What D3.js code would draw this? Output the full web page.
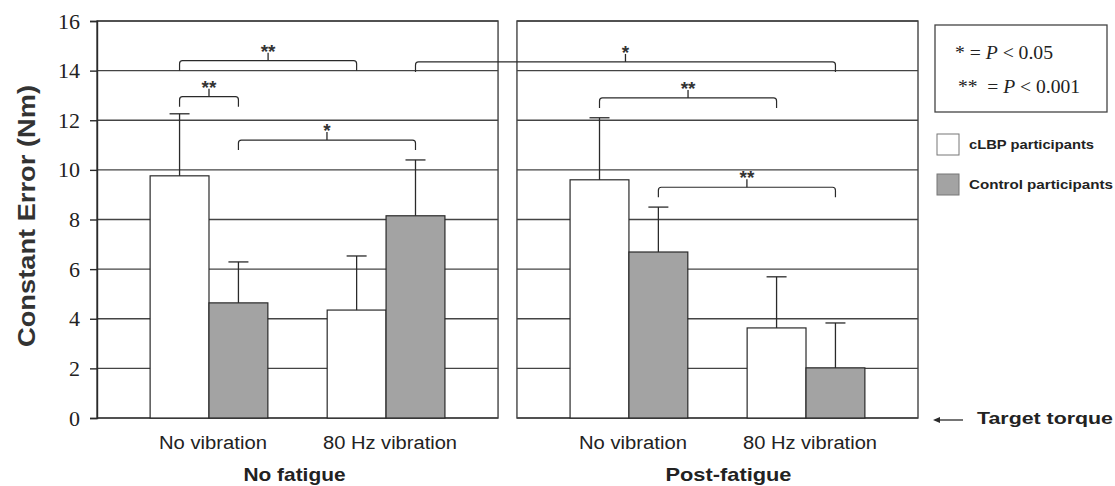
<!DOCTYPE html>
<html><head><meta charset="utf-8">
<script src="https://cdn.jsdelivr.net/npm/d3@7"></script>
<style>body{margin:0;background:#fff}svg{display:block}</style>
</head><body>
<svg id="c" width="1115" height="486"></svg>
<script>
// ---- data ----
const panels = ["No fatigue", "Post-fatigue"];
const conditions = ["No vibration", "80 Hz vibration"];
const groups = ["cLBP participants", "Control participants"];
// order: [No fatigue-No vib, No fatigue-80Hz, Post-fatigue-No vib, Post-fatigue-80Hz]
const cLBPMean = [9.76, 4.35, 9.6, 3.63];
const cLBPSD = [2.5, 2.18, 2.5, 2.06];
const controlMean = [4.64, 8.15, 6.69, 2.02];
const controlSD = [1.65, 2.25, 1.81, 1.81];
const yTicks = [0, 2, 4, 6, 8, 10, 12, 14, 16];
// significance brackets: [panel, condition, group] indices of endpoints
const sigLabel = ["**", "*", "**", "*", "**", "**"];
const sigLevel = [14.4, 14.35, 12.95, 11.2, 12.9, 9.3];
const sigFrom = [[0,0,0],[0,1,1],[0,0,0],[0,0,1],[1,0,0],[1,0,1]];
const sigTo   = [[0,1,0],[1,1,1],[0,0,1],[0,1,1],[1,1,0],[1,1,1]];
const pLegend = [["* = ", "P", " < 0.05"], ["**  = ", "P", " < 0.001"]];

// ---- layout ----
const svg = d3.select("#c");
svg.append("rect").attr("width",1115).attr("height",486).attr("fill","#fff");
const y = d3.scaleLinear().domain([0,16]).range([418,21]);
const px = d3.scaleBand().domain(panels).range([97,918]).paddingInner(0.045);
const cx = d3.scaleBand().domain(conditions).range([0,px.bandwidth()]).paddingInner(0.335).paddingOuter(0.3);
const gx = d3.scaleBand().domain(groups).range([0,cx.bandwidth()]);
const ink = "#2a2a2a";
const gridC = "#444";
const sans = "'Liberation Sans',Arial,sans-serif";
const serif = "'Liberation Serif','Times New Roman',serif";

const data = [];
panels.forEach((p,pi)=>conditions.forEach((c,ci)=>{
  const k = pi*2+ci;
  data.push({p,c,g:groups[0],m:cLBPMean[k],sd:cLBPSD[k]});
  data.push({p,c,g:groups[1],m:controlMean[k],sd:controlSD[k]});
}));
const barX = d=>px(d.p)+cx(d.c)+gx(d.g);
const center = (a)=>px(panels[a[0]])+cx(conditions[a[1]])+gx(groups[a[2]])+gx.bandwidth()/2;

// gridlines + frames
panels.forEach(p=>{
  const x0 = px(p), x1 = px(p)+px.bandwidth();
  svg.append("g").selectAll("line").data(yTicks).join("line")
    .attr("x1",x0).attr("x2",x1).attr("y1",d=>y(d)).attr("y2",d=>y(d))
    .attr("stroke",gridC).attr("stroke-width",1.4);
  svg.append("rect").attr("x",x0).attr("y",y(16)).attr("width",px.bandwidth()).attr("height",y(0)-y(16))
    .attr("fill","none").attr("stroke",gridC).attr("stroke-width",1.4);
});

// y axis
const ax = svg.append("g").attr("transform",`translate(${px(panels[0])},0)`)
  .call(d3.axisLeft(y).tickValues(yTicks).tickSize(7).tickPadding(10).tickFormat(d3.format("d")));
ax.select(".domain").attr("stroke",ink).attr("stroke-width",1.4);
ax.selectAll(".tick line").attr("stroke",ink).attr("stroke-width",1.4);
ax.selectAll(".tick text").attr("font-family",serif).attr("font-size",22).attr("fill","#222");

// bars
svg.append("g").selectAll("rect").data(data).join("rect")
  .attr("x",barX).attr("width",gx.bandwidth()).attr("y",d=>y(d.m)).attr("height",d=>y(0)-y(d.m))
  .attr("fill",d=>d.g===groups[0]?"#ffffff":"#a3a3a3").attr("stroke",ink).attr("stroke-width",1.2);

// error bars
const eb = svg.append("g").attr("stroke",ink).attr("stroke-width",1.3);
data.forEach(d=>{
  const xc = barX(d)+gx.bandwidth()/2;
  eb.append("line").attr("x1",xc).attr("x2",xc).attr("y1",y(d.m)).attr("y2",y(d.m+d.sd));
  eb.append("line").attr("x1",xc-10).attr("x2",xc+10).attr("y1",y(d.m+d.sd)).attr("y2",y(d.m+d.sd));
});

// significance brackets
const br = svg.append("g");
sigLabel.forEach((lab,i)=>{
  const x1 = center(sigFrom[i]), x2 = center(sigTo[i]);
  const yt = y(sigLevel[i]), leg = 10, r = 3, xm = (x1+x2)/2;
  const path = `M${x1},${yt+leg} L${x1},${yt+r} Q${x1},${yt} ${x1+r},${yt} L${x2-r},${yt} Q${x2},${yt} ${x2},${yt+r} L${x2},${yt+leg}`;
  br.append("path").attr("d",path).attr("fill","none").attr("stroke",ink).attr("stroke-width",1.2);
  br.append("line").attr("x1",xm).attr("x2",xm).attr("y1",yt).attr("y2",yt-8).attr("stroke",ink).attr("stroke-width",1.3);
  br.append("text").attr("x",xm).attr("y",yt-3).attr("text-anchor","middle")
    .attr("font-family",sans).attr("font-weight","bold").attr("font-size",19)
    .attr("fill","#333").text(lab);
});

// x labels
const condLen = [108, 134];
const panelLen = [102, 126];
const panelShift = [-3, 11];
panels.forEach((p,pi)=>{
  conditions.forEach((c,ci)=>{
    svg.append("text").attr("x",px(p)+cx(c)+cx.bandwidth()/2+4).attr("y",449).attr("text-anchor","middle")
      .attr("font-family",sans).attr("font-size",18).attr("fill","#222")
      .attr("textLength",condLen[ci]).attr("lengthAdjust","spacingAndGlyphs").text(c);
  });
  svg.append("text").attr("x",px(p)+px.bandwidth()/2+panelShift[pi]).attr("y",481).attr("text-anchor","middle")
    .attr("font-family",sans).attr("font-weight","bold").attr("font-size",19).attr("fill","#222")
    .attr("textLength",panelLen[pi]).attr("lengthAdjust","spacingAndGlyphs").text(p);
});

// y title
svg.append("text").attr("transform","translate(35,216) rotate(-90)").attr("text-anchor","middle")
  .attr("font-family",sans).attr("font-weight","bold").attr("font-size",24).attr("fill","#333")
  .attr("textLength",262).attr("lengthAdjust","spacingAndGlyphs")
  .text("Constant Error (Nm)");

// P legend box
svg.append("rect").attr("x",935).attr("y",25).attr("width",172).attr("height",87)
  .attr("fill","#fff").attr("stroke",gridC).attr("stroke-width",1.3);
const pLen = [98, 122];
pLegend.forEach((parts,i)=>{
  const t = svg.append("text").attr("x",i===0?955:958).attr("y",i===0?59:93)
    .attr("font-family",serif).attr("font-size",19).attr("fill","#222")
    .attr("xml:space","preserve").attr("textLength",pLen[i]).attr("lengthAdjust","spacingAndGlyphs");
  t.append("tspan").text(parts[0]);
  t.append("tspan").attr("font-style","italic").text(parts[1]);
  t.append("tspan").text(parts[2]);
});

// group legend
const gLen = [125, 144];
groups.forEach((g,i)=>{
  const yy = 134 + i*40;
  svg.append("rect").attr("x",937).attr("y",yy).attr("width",22).attr("height",21)
    .attr("fill",i===0?"#fff":"#a3a3a3").attr("stroke","#777").attr("stroke-width",1);
  svg.append("text").attr("x",969).attr("y",yy+15).attr("font-family",sans).attr("font-weight","bold")
    .attr("font-size",13).attr("fill","#222")
    .attr("textLength",gLen[i]).attr("lengthAdjust","spacingAndGlyphs").text(g);
});

// target torque
svg.append("line").attr("x1",937).attr("x2",963).attr("y1",y(0)+2).attr("y2",y(0)+2).attr("stroke",ink).attr("stroke-width",1.3);
svg.append("path").attr("d",`M933,${y(0)+2} l7,-3 l0,6 z`).attr("fill",ink);
svg.append("text").attr("x",977).attr("y",y(0)+6).attr("font-family",sans).attr("font-weight","bold")
  .attr("font-size",17).attr("fill","#222")
  .attr("textLength",136).attr("lengthAdjust","spacingAndGlyphs").text("Target torque");
</script>
</body></html>
